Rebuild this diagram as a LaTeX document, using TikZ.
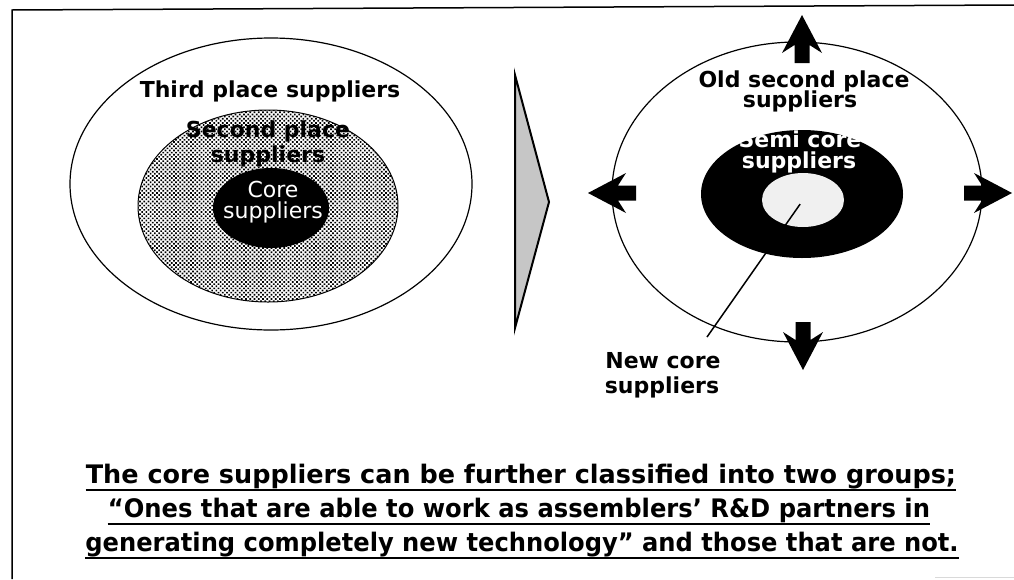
\documentclass[tikz,border=0pt]{standalone}
\usepackage{fontspec}
\setmainfont{DejaVu Sans}
\usetikzlibrary{shapes.geometric,patterns.meta}

\begin{document}
\begin{tikzpicture}[x=1pt,y=-1pt,
  ring/.style={ellipse, inner sep=0pt},
  lbl/.style={font=\bfseries\fontsize{22}{22}\selectfont, inner sep=0pt, anchor=base},
  wlbl/.style={lbl, text=white},
  corelbl/.style={font=\fontsize{22}{22}\selectfont, text=white, inner sep=0pt, anchor=base},
  note/.style={font=\bfseries\fontsize{25.5}{25.5}\selectfont, inner sep=0pt, anchor=base},
  uline/.style={line width=2.5pt},
  blockarrow/.style={fill=black},
  dotted fill/.style={preaction={fill=white}, pattern={Dots[distance=3pt, radius=1.2pt, angle=45]}},
]
\useasboundingbox (0,0) rectangle (1014,579);

% frame
\draw[line width=1.5pt] (12,579) -- (12,10) -- (1014,5);
\draw[gray!30, line width=1pt] (935,577.5) -- (1014,577.5);

% ---- before: concentric supplier rings ----
\node[ring, draw, line width=1.2pt, minimum width=402pt, minimum height=292pt] (third) at (271,184) {};
\node[ring, draw, line width=1pt, dotted fill, minimum width=260pt, minimum height=192pt] (second) at (268,206) {};
\node[ring, fill=black, minimum width=116pt, minimum height=80pt] (core) at (271,208) {};

\node[lbl] (thirdlbl) at (270,97) {Third place suppliers};
\node[lbl] (secondlbl1) at (268,137) {Second place};
\node[lbl] (secondlbl2) at (268,162) {suppliers};
\node[corelbl] (corelbl1) at (273,197) {Core};
\node[corelbl] (corelbl2) at (273,218) {suppliers};

% ---- transition arrow ----
\draw[line width=2pt, fill=gray!45] (515,75) -- (549,202) -- (515,328) -- cycle;

% ---- after: reorganised rings ----
\node[ring, draw, line width=1.2pt, minimum width=370pt, minimum height=300pt] (oldsecond) at (797,192) {};
\node[ring, fill=black, minimum width=202pt, minimum height=128pt] (semicore) at (802,194) {};
\node[ring, fill=gray!12, minimum width=82pt, minimum height=54pt] (newcore) at (803,200) {};

\node[lbl] (oldlbl1) at (804,87) {Old second place};
\node[lbl] (oldlbl2) at (800,107) {suppliers};
\node[wlbl] (semilbl1) at (800,147) {Semi core};
\node[wlbl] (semilbl2) at (799,168) {suppliers};
\node[lbl] (newlbl1) at (663,368) {New core};
\node[lbl] (newlbl2) at (662,393) {suppliers};

% leader from the new core label to the inner ring
\coordinate (lead) at (707,337);
\draw[line width=1.5pt, shorten >=5pt] (lead) -- (newcore.center);

% outward block arrows
\foreach \tip/\ang in {{(802,15)}/90, {(803,370)}/-90, {(588,193)}/180, {(1012,193)}/0}{
  \fill[blockarrow, shift={\tip}, rotate=\ang]
    (0,0) -- (-38,-20) -- (-30,-7.5) -- (-48,-7.5) -- (-48,7.5) -- (-30,7.5) -- (-38,20) -- cycle;
}

% ---- explanatory note ----
\node[note] (note1) at (521,483) {The core suppliers can be further classified into two groups;};
\node[note] (note2) at (519,517) {\scalebox{0.95}[1]{“Ones that are able to work as assemblers’ R\&D partners in}};
\node[note] (note3) at (522,551) {\scalebox{0.948}[1]{generating completely new technology” and those that are not.}};
\foreach \n in {note1,note2,note3}{
  \draw[uline] ([yshift=-7pt]\n.base west) -- ([yshift=-7pt]\n.base east);
}
\end{tikzpicture}
\end{document}
